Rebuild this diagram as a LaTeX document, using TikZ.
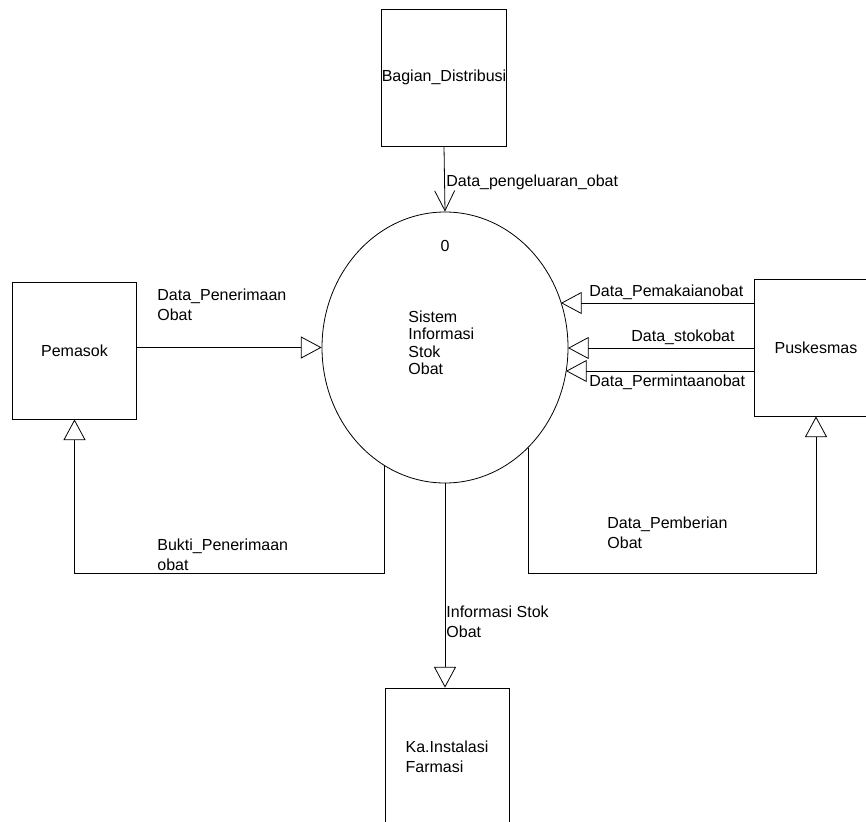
\documentclass[tikz,border=0pt]{standalone}
\usepackage{fontspec}
\setmainfont{Liberation Sans}
\usetikzlibrary{arrows.meta,shapes.geometric}
\begin{document}
\begin{tikzpicture}[x=0.75pt,y=-0.75pt,line width=0.6pt,
  every node/.style={font=\fontsize{12}{15}\selectfont},
  entity/.style={draw,rectangle,inner sep=0pt,minimum width=93pt,minimum height=102.75pt},
  process/.style={draw,ellipse,inner sep=0pt,minimum width=184.5pt,minimum height=203.25pt},
  lbl/.style={inner sep=0pt,anchor=west,align=left},
  flow/.style={-{Triangle[open,length=15.5pt,width=16.5pt]}},
  pull/.style={-{Straight Barb[length=15pt,width=15pt]}}]
\useasboundingbox (0,0) rectangle (866,821);
\clip (0,0) rectangle (866,821);

% external entities
\node[entity] (bagian)  at (444,77.5)  {Bagian\_Distribusi};
\node[entity] (pemasok) at (74.5,350.5) {Pemasok};
\node[entity] (pusk)    at (816,347.5) {Puskesmas};
\node[entity,minimum height=102pt] (ka) at (447,756) {};
\node[lbl,align=left,anchor=center] (katext) at (447,757) {Ka.Instalasi\\Farmasi};

% the process
\node[process] (proc) at (445,347.5) {};
\node[inner sep=0pt] (pnum) at (445,246) {0};
\node[lbl,font=\fontsize{12}{13.1}\selectfont] (pname) at (408,343) {Sistem\\Informasi\\Stok\\Obat};

% points where flows meet the process border
\coordinate (t1) at (561,303);
\coordinate (t2) at (568,348);
\coordinate (t3) at (566,371);
\coordinate (b1) at (384,465);
\coordinate (b1d) at (384,573);
\coordinate (b2) at (528,448);
\coordinate (b2d) at (528,573);

% data flows
\draw[pull] (bagian.south) -- (proc.north);
\draw[flow] (pemasok.east |- proc.west) -- (proc.west);
\draw[flow] (pusk.west |- t1) -- (t1);
\draw[flow] (pusk.west |- t2) -- (t2);
\draw[flow] (pusk.west |- t3) -- (t3);
\draw[flow] (b1) -- (b1d) -| (pemasok.south);
\draw[flow] (b2) -- (b2d) -| (pusk.south);
\draw[flow] (proc.south) -- (proc.south |- ka.north);

% flow labels
\node[lbl] (l1) at (446,182) {Data\_pengeluaran\_obat};
\node[lbl] (l2) at (157,305) {Data\_Penerimaan\\Obat};
\node[lbl] (l3) at (589,292) {Data\_Pemakaianobat};
\node[lbl] (l4) at (631,337) {Data\_stokobat};
\node[lbl] (l5) at (589,382) {Data\_Permintaanobat};
\node[lbl] (l6) at (157,555) {Bukti\_Penerimaan\\obat};
\node[lbl] (l7) at (607,533) {Data\_Pemberian\\Obat};
\node[lbl] (l8) at (446,622) {Informasi Stok\\Obat};
\end{tikzpicture}
\end{document}
